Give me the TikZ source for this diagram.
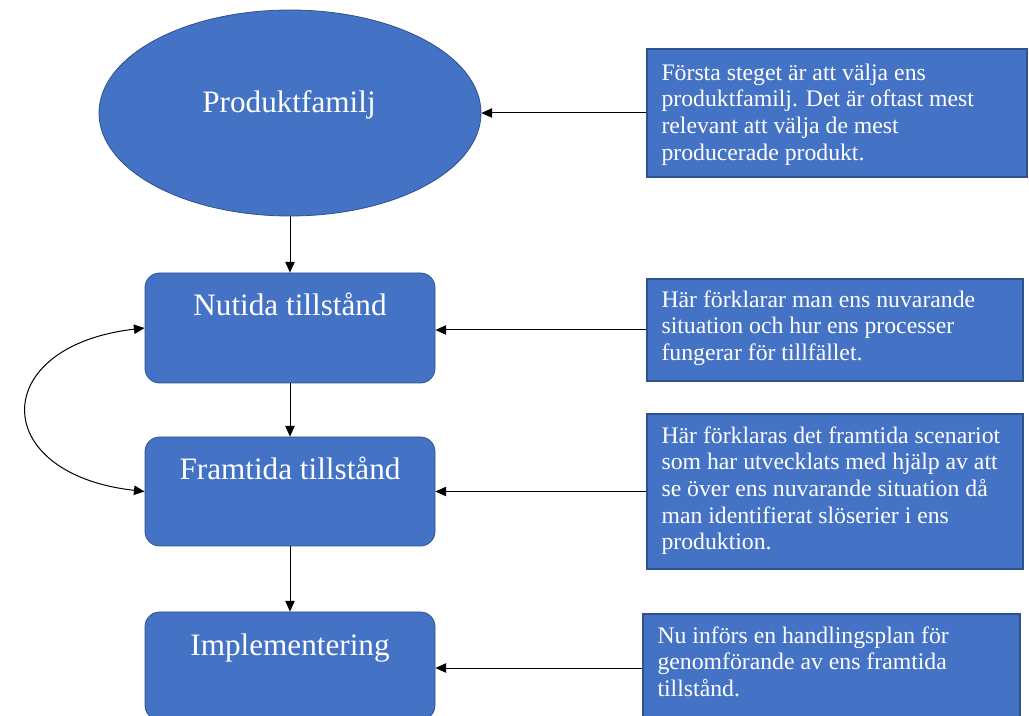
\documentclass[tikz,border=0pt]{standalone}
\usepackage{fontspec}
\setmainfont{Liberation Serif}
\usetikzlibrary{shapes.geometric,arrows.meta}
\definecolor{fillblue}{HTML}{4472C4}
\definecolor{edgeblue}{HTML}{2F528F}

\begin{document}
\begin{tikzpicture}[x=0.75pt,y=-0.75pt,
  stage/.style={draw=edgeblue, line width=0.6pt, fill=fillblue,
    rounded corners=11pt, inner sep=0, minimum width=217.5pt},
  note/.style={draw=edgeblue, line width=1.1pt, fill=fillblue, inner sep=0},
  title/.style={text=white, font=\fontsize{23.4}{28}\selectfont,
    anchor=base, inner sep=0},
  notetext/.style={text=white, font=\fontsize{17.8}{20}\selectfont,
    align=left, anchor=north west, inner sep=0},
  link/.style={draw=black, line width=0.75pt,
    -{Triangle[length=8pt,width=7pt]}}]

\useasboundingbox (0,0) rectangle (1029,716);

% process steps
\node[ellipse, draw=edgeblue, line width=0.6pt, fill=fillblue, inner sep=0,
  minimum width=286.5pt, minimum height=154.5pt] (fam) at (290,113) {};
\node[stage, minimum height=82.5pt] (now) at (290,328) {};
\node[stage, minimum height=81.75pt] (fut) at (290,491.5) {};
\node[stage, minimum height=81pt] (impl) at (290,666) {};

\node[title] (famtxt) at (289,113) {Produktfamilj};
\node[title] (nowtxt) at (290,316) {Nutida tillstånd};
\node[title] (futtxt) at (290,480) {Framtida tillstånd};
\node[title] (impltxt) at (290,655) {Implementering};

% explanations
\node[note, minimum width=285pt, minimum height=96pt] (n1) at (837,113) {};
\node[note, minimum width=282pt, minimum height=76.5pt] (n2) at (835,330) {};
\node[note, minimum width=282pt, minimum height=116.25pt] (n3) at (835,491.5) {};
\node[note, minimum width=282.75pt, minimum height=81pt] (n4) at (831.5,668) {};

\node[notetext] (t1) at ([shift={(15,13)}]n1.north west)
  {\strut Första steget är att välja ens\\produktfamilj. Det är oftast mest\\relevant att välja de mest\\producerade produkt.};
\node[notetext] (t2) at ([shift={(15,10)}]n2.north west)
  {\strut Här förklarar man ens nuvarande\\situation och hur ens processer\\fungerar för tillfället.};
\node[notetext] (t3) at ([shift={(15,11)}]n3.north west)
  {\strut Här förklaras det framtida scenariot\\som har utvecklats med hjälp av att\\se över ens nuvarande situation då\\man identifierat slöserier i ens\\produktion.};
\node[notetext] (t4) at ([shift={(15,11)}]n4.north west)
  {\strut Nu införs en handlingsplan för\\genomförande av ens framtida\\tillstånd.};

% flow downwards
\draw[link] (fam.south) -- (now.north);
\draw[link] (now.south) -- (fut.north);
\draw[link] (fut.south) -- (impl.north);

% explanations point at their steps
\draw[link] (n1.west) -- (n1.west -| fam.east);
\draw[link] (n2.west) -- (n2.west -| now.east);
\draw[link] (n3.west) -- (n3.west -| fut.east);
\draw[link] (n4.west) -- (n4.west -| impl.east);

% loop between current and future state
\draw[draw=black, line width=0.75pt,
  {Triangle[length=8pt,width=7pt]}-{Triangle[length=8pt,width=7pt]}]
  (now.west) .. controls (-12,346) and (-12,474) .. (fut.west);
\end{tikzpicture}
\end{document}
